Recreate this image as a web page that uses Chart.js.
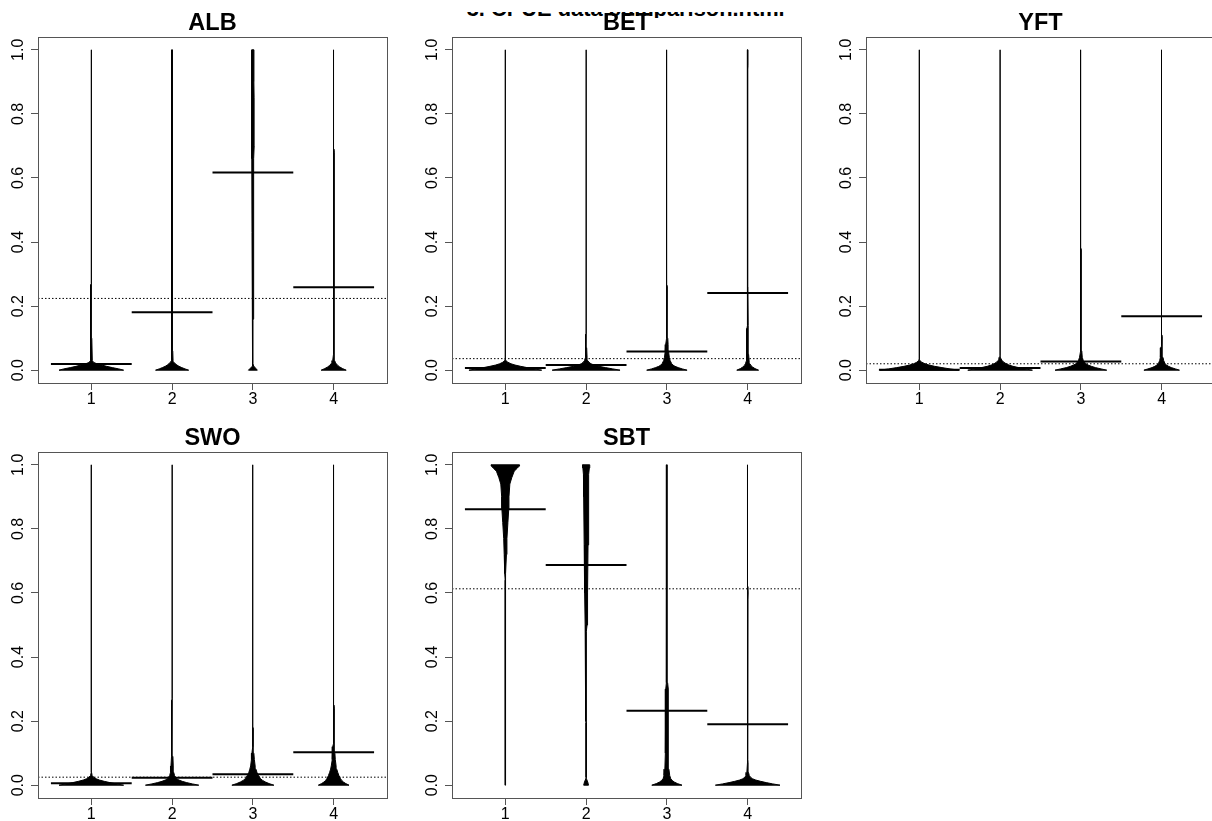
<!DOCTYPE html>
<html>
<head>
<meta charset="utf-8">
<script src="https://cdn.jsdelivr.net/npm/chart.js@4.4.1/dist/chart.umd.min.js"></script>
<style>
  html, body { margin: 0; padding: 0; background: #fff; overflow: hidden; }
  body { width: 1212px; height: 821px; position: relative; }
  canvas { position: absolute; }
  #pageTitle { position: absolute; left: 460px; top: 12px; width: 340px; height: 6px; overflow: hidden; }
  #pageTitle svg { position: absolute; left: 0; top: -12px; }
</style>
</head>
<body>
<div id="pageTitle"><svg width="340" height="24"><text x="6.7" y="16" textLength="318" lengthAdjust="spacingAndGlyphs" font-family="Liberation Sans, Arial, sans-serif" font-weight="bold" font-size="22">3. CPUE data comparison.html</text></svg></div>
<canvas id="cALB" width="404" height="410" style="left:-2px;top:0px"></canvas>
<canvas id="cBET" width="404" height="410" style="left:412px;top:0px"></canvas>
<canvas id="cYFT" width="404" height="410" style="left:826px;top:0px"></canvas>
<canvas id="cSWO" width="404" height="410" style="left:-2px;top:415px"></canvas>
<canvas id="cSBT" width="404" height="410" style="left:412px;top:415px"></canvas>
<script>
const panelNames = ['ALB', 'BET', 'YFT', 'SWO', 'SBT'];
const groups = [1, 2, 3, 4];
const xLabels = ['1', '2', '3', '4'];
const yTicks = [0, 0.2, 0.4, 0.6, 0.8, 1.0];
const yTickLabels = ['0.0', '0.2', '0.4', '0.6', '0.8', '1.0'];

// mean of each bean (solid bar) and overall mean (dotted line)
const albMeans = [0.019, 0.181, 0.617, 0.259];
const betMeans = [0.007, 0.016, 0.058, 0.241];
const yftMeans = [0.001, 0.007, 0.027, 0.168];
const swoMeans = [0.006, 0.023, 0.034, 0.103];
const sbtMeans = [0.861, 0.687, 0.232, 0.190];
const overallMeans = [0.224, 0.036, 0.020, 0.025, 0.613];

// bean outlines: [value, half width in group units]
const albBeans = [
  [[0,0.40],[0.004,0.34],[0.008,0.26],[0.012,0.19],[0.016,0.13],[0.02,0.07],[0.024,0.03],[0.03,0.012],[0.1,0.006],[0.267,0.005],[0.27,0.002],[0.335,0.002],[0.34,0.0005],[1.0,0.0005]],
  [[0,0.205],[0.004,0.16],[0.008,0.12],[0.012,0.085],[0.016,0.06],[0.02,0.04],[0.025,0.022],[0.03,0.012],[0.06,0.008],[0.27,0.008],[0.3,0.004],[0.34,0.006],[0.5,0.004],[0.93,0.004],[0.95,0.002],[1.0,0.004]],
  [[0,0.055],[0.013,0.01],[0.02,0.0005],[0.155,0.0005],[0.16,0.004],[0.42,0.005],[0.43,0.011],[0.66,0.012],[0.7,0.016],[0.85,0.015],[0.9,0.012],[1.0,0.013]],
  [[0,0.155],[0.005,0.11],[0.01,0.075],[0.015,0.05],[0.02,0.032],[0.025,0.02],[0.03,0.012],[0.05,0.008],[0.68,0.007],[0.69,0.003],[0.715,0.002],[0.72,0.0005],[1.0,0.0005]]
];
const betBeans = [
  [[0,0.45],[0.004,0.36],[0.008,0.27],[0.012,0.19],[0.016,0.12],[0.02,0.07],[0.025,0.03],[0.03,0.008],[0.035,0.002],[0.04,0.0005],[1,0.0005]],
  [[0,0.42],[0.004,0.33],[0.008,0.24],[0.012,0.16],[0.016,0.1],[0.02,0.06],[0.025,0.035],[0.03,0.02],[0.04,0.012],[0.07,0.007],[0.08,0.003],[0.112,0.002],[0.115,0.0005],[1,0.0005]],
  [[0,0.25],[0.004,0.19],[0.008,0.14],[0.012,0.1],[0.016,0.075],[0.02,0.06],[0.03,0.04],[0.04,0.03],[0.06,0.02],[0.08,0.015],[0.1,0.011],[0.12,0.007],[0.2,0.005],[0.21,0.003],[0.26,0.002],[0.265,0.0005],[1,0.0005]],
  [[0,0.135],[0.005,0.09],[0.01,0.06],[0.015,0.04],[0.02,0.028],[0.03,0.018],[0.05,0.011],[0.13,0.009],[0.14,0.004],[0.26,0.003],[0.27,0.002],[0.86,0.002],[0.87,0.001],[0.94,0.001],[0.95,0.004],[1,0.004]]
];
const yftBeans = [
  [[0,0.49],[0.004,0.38],[0.008,0.28],[0.012,0.19],[0.016,0.12],[0.02,0.07],[0.025,0.03],[0.03,0.008],[0.035,0.0005],[1,0.0005]],
  [[0,0.4],[0.004,0.31],[0.008,0.23],[0.012,0.16],[0.016,0.11],[0.02,0.075],[0.025,0.045],[0.03,0.025],[0.035,0.012],[0.04,0.004],[0.045,0.0005],[1,0.0005]],
  [[0,0.32],[0.004,0.25],[0.008,0.18],[0.012,0.13],[0.016,0.09],[0.02,0.06],[0.03,0.03],[0.04,0.017],[0.06,0.011],[0.075,0.009],[0.08,0.003],[0.375,0.002],[0.38,0.0005],[1,0.0005]],
  [[0,0.22],[0.004,0.17],[0.008,0.12],[0.012,0.085],[0.016,0.06],[0.02,0.042],[0.03,0.025],[0.04,0.016],[0.07,0.011],[0.075,0.005],[0.105,0.004],[0.11,0.002],[1,0.002]]
];
const swoBeans = [
  [[0,0.4],[0.004,0.31],[0.008,0.23],[0.012,0.16],[0.016,0.1],[0.02,0.06],[0.025,0.03],[0.03,0.01],[0.04,0.003],[0.135,0.002],[0.14,0.0005],[1,0.0005]],
  [[0,0.33],[0.004,0.25],[0.008,0.18],[0.012,0.125],[0.016,0.085],[0.02,0.055],[0.03,0.03],[0.04,0.02],[0.06,0.014],[0.09,0.01],[0.1,0.004],[0.265,0.002],[0.27,0.0005],[1,0.0005]],
  [[0,0.26],[0.005,0.2],[0.01,0.155],[0.015,0.12],[0.02,0.095],[0.03,0.07],[0.04,0.05],[0.05,0.038],[0.06,0.028],[0.08,0.018],[0.1,0.012],[0.12,0.007],[0.13,0.004],[0.175,0.002],[0.18,0.0005],[1,0.0005]],
  [[0,0.19],[0.005,0.15],[0.01,0.12],[0.015,0.1],[0.02,0.085],[0.03,0.065],[0.04,0.05],[0.05,0.038],[0.06,0.03],[0.08,0.02],[0.1,0.015],[0.12,0.012],[0.13,0.007],[0.24,0.005],[0.25,0.003],[0.26,0.002],[0.265,0.0005],[1,0.0005]]
];
const sbtBeans = [
  [[0,0.0005],[0.37,0.0005],[0.38,0.002],[0.64,0.002],[0.66,0.007],[0.72,0.014],[0.77,0.02],[0.82,0.032],[0.86,0.042],[0.9,0.045],[0.94,0.056],[0.96,0.08],[0.98,0.11],[0.99,0.15],[0.996,0.172],[1,0.176]],
  [[0,0.03],[0.01,0.02],[0.02,0.004],[0.025,0.0005],[0.195,0.0005],[0.2,0.004],[0.48,0.006],[0.5,0.012],[0.6,0.018],[0.75,0.024],[0.9,0.03],[0.97,0.033],[0.99,0.04],[1.0,0.045]],
  [[0,0.187],[0.005,0.13],[0.01,0.09],[0.015,0.065],[0.02,0.048],[0.03,0.035],[0.05,0.025],[0.1,0.021],[0.15,0.017],[0.3,0.014],[0.32,0.009],[0.55,0.007],[0.56,0.003],[1,0.003]],
  [[0,0.4],[0.004,0.31],[0.008,0.23],[0.012,0.16],[0.016,0.1],[0.02,0.06],[0.025,0.035],[0.03,0.02],[0.04,0.01],[0.07,0.005],[0.08,0.002],[0.58,0.002],[0.6,0.005],[0.62,0.002],[1,0.002]]
];

const allMeans = [albMeans, betMeans, yftMeans, swoMeans, sbtMeans];
const allBeans = [albBeans, betBeans, yftBeans, swoBeans, sbtBeans];

const X_MIN = 0.34, X_MAX = 4.66;
const Y_MIN = -0.04, Y_MAX = 1.04;
const FONT = '"Liberation Sans", Arial, sans-serif';

// closed outline: up the right side, down the left side
function beanOutline(center, profile) {
  const right = profile.map(([v, w]) => ({ x: center + w, y: v }));
  const left = profile.slice().reverse().map(([v, w]) => ({ x: center - w, y: v }));
  return right.concat(left, [right[0]]);
}

// frame, rotated y labels and panel title (R style)
const beanDecor = {
  id: 'beanDecor',
  afterDraw(chart, args, opts) {
    const { ctx, chartArea: a } = chart;
    const y = chart.scales.y;
    ctx.save();
    ctx.strokeStyle = '#555';
    ctx.lineWidth = 1;
    ctx.strokeRect(Math.round(a.left) + 0.5, Math.round(a.top) + 0.5,
      Math.round(a.right - a.left), Math.round(a.bottom - a.top));

    ctx.fillStyle = '#000';
    ctx.font = '16px ' + FONT;
    ctx.textAlign = 'center';
    ctx.textBaseline = 'alphabetic';
    yTicks.forEach((v, i) => {
      ctx.save();
      ctx.translate(a.left - 15, y.getPixelForValue(v));
      ctx.rotate(-Math.PI / 2);
      ctx.fillText(yTickLabels[i], 0, 0);
      ctx.restore();
    });

    ctx.font = 'bold 23.5px ' + FONT;
    ctx.fillText(opts.title, (a.left + a.right) / 2, a.top - 7.5);
    ctx.restore();
  }
};

function makePanel(idx) {
  const datasets = [];
  allBeans[idx].forEach((profile, i) => {
    datasets.push({
      data: beanOutline(groups[i], profile),
      borderColor: '#000',
      backgroundColor: '#000',
      borderWidth: 1,
      fill: 'shape',
      pointRadius: 0,
      tension: 0,
      order: 3
    });
  });
  datasets.push({
    data: [{ x: X_MIN, y: overallMeans[idx] }, { x: X_MAX, y: overallMeans[idx] }],
    borderColor: '#000',
    borderWidth: 1,
    borderDash: [1.5, 2],
    fill: false,
    pointRadius: 0,
    order: 2
  });
  allMeans[idx].forEach((m, i) => {
    datasets.push({
      data: [{ x: groups[i] - 0.5, y: m }, { x: groups[i] + 0.5, y: m }],
      borderColor: '#000',
      borderWidth: 2,
      fill: false,
      pointRadius: 0,
      order: 1
    });
  });

  const gridOpts = { drawOnChartArea: false, drawTicks: true, tickLength: 7, color: '#555' };

  new Chart(document.getElementById('c' + panelNames[idx]), {
    type: 'line',
    data: { datasets },
    plugins: [beanDecor],
    options: {
      responsive: false,
      animation: false,
      devicePixelRatio: 1,
      layout: { padding: { left: 0, top: 37, right: 15, bottom: 0 } },
      plugins: {
        legend: { display: false },
        tooltip: { enabled: false },
        beanDecor: { title: panelNames[idx] }
      },
      scales: {
        x: {
          type: 'linear',
          min: X_MIN,
          max: X_MAX,
          afterBuildTicks: s => { s.ticks = groups.map(v => ({ value: v })); },
          afterFit: s => { s.height = 27; },
          grid: gridOpts,
          border: { display: false },
          ticks: {
            color: '#000',
            font: { family: FONT, size: 16 },
            padding: 0,
            maxRotation: 0,
            callback: (v, i) => xLabels[i]
          }
        },
        y: {
          type: 'linear',
          min: Y_MIN,
          max: Y_MAX,
          afterBuildTicks: s => { s.ticks = yTicks.map(v => ({ value: v })); },
          afterFit: s => { s.width = 40; },
          grid: gridOpts,
          border: { display: false },
          ticks: { display: false }
        }
      }
    }
  });
}

panelNames.forEach((n, i) => makePanel(i));
</script>
</body>
</html>
